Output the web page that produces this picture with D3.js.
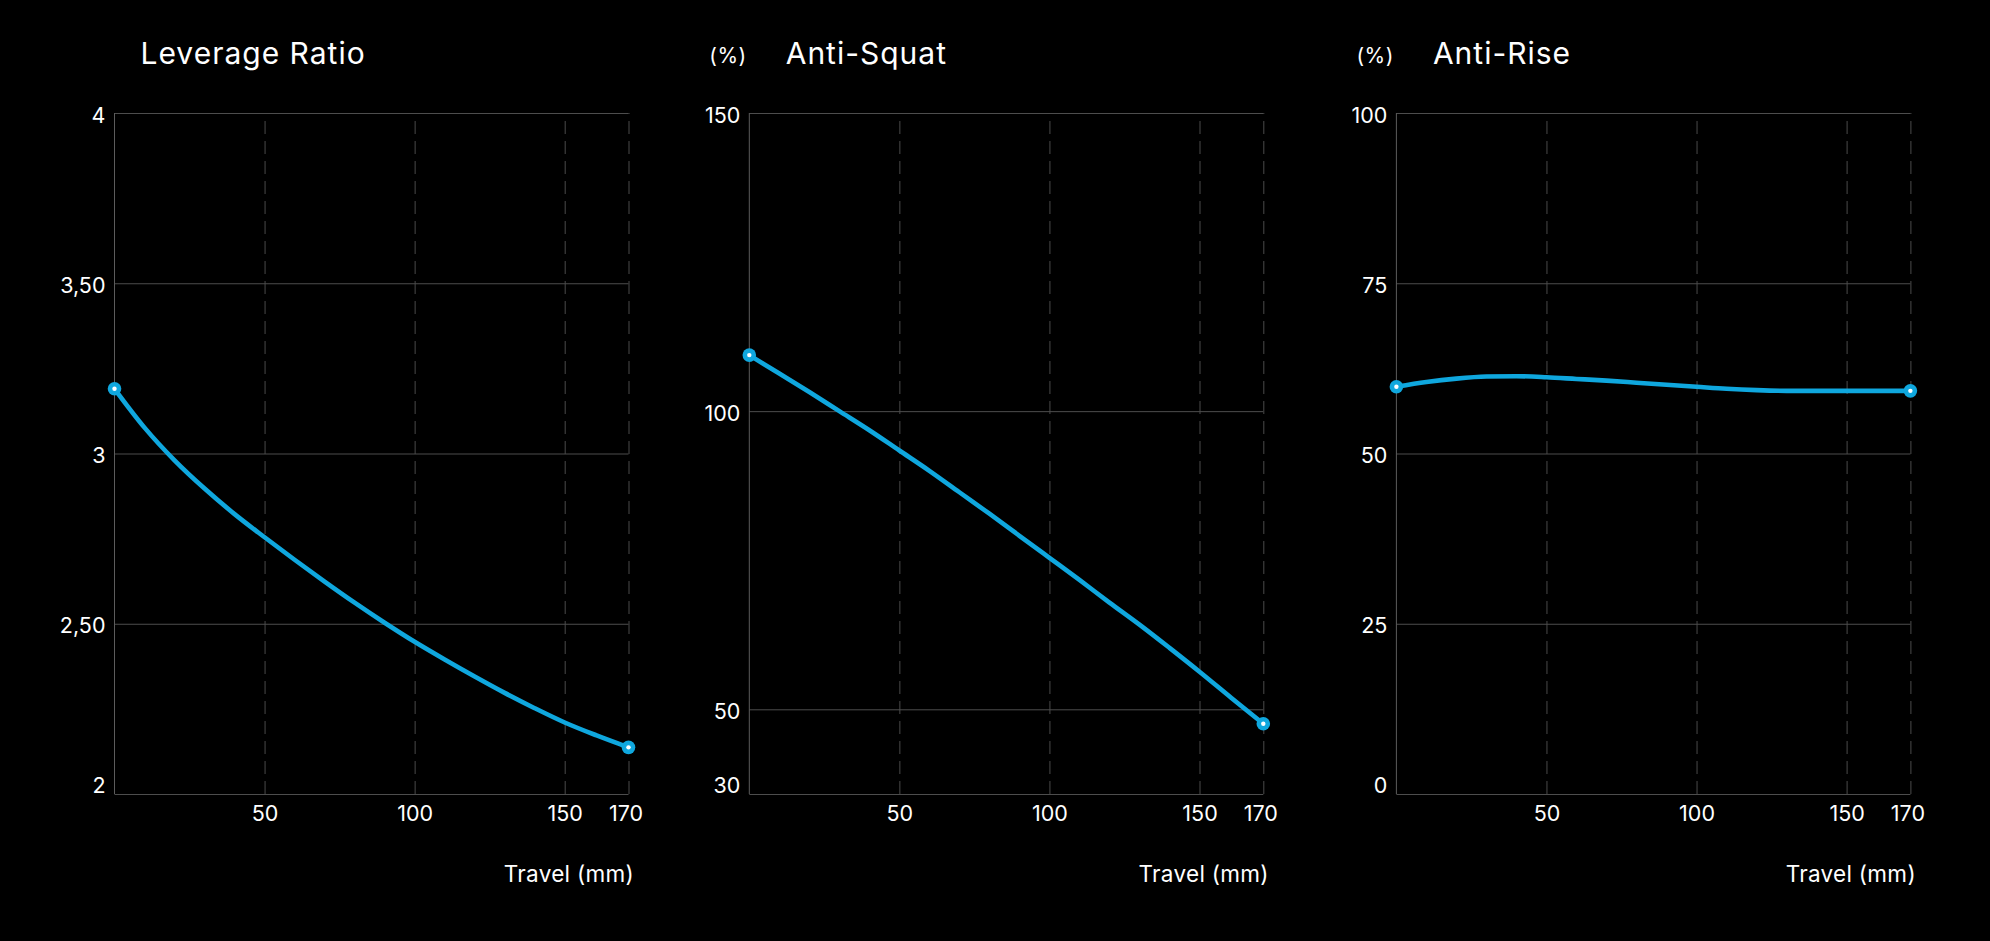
<!DOCTYPE html>
<html>
<head>
<meta charset="utf-8">
<script src="https://cdn.jsdelivr.net/npm/d3@7"></script>
<style>
  html, body { margin: 0; padding: 0; background: #000; }
  svg { display: block; }
  text { font-family: Inter, Roboto, sans-serif; fill: #fff; }
</style>
</head>
<body>
<svg id="chart"></svg>
<script>
// travel in mm
const travel = [0, 10, 20, 30, 40, 50, 60, 70, 80, 90, 100, 110, 120, 130, 140, 150, 160, 170];
const leverage = [3.19, 3.076, 2.980, 2.897, 2.822, 2.754, 2.688, 2.624, 2.562, 2.503, 2.447, 2.395, 2.345, 2.297, 2.252, 2.210, 2.172, 2.137];
const antiSquat = [109.4, 106.3, 103.2, 100.0, 96.8, 93.4, 90.0, 86.4, 82.8, 79.1, 75.4, 71.7, 67.9, 64.2, 60.3, 56.3, 51.9, 46.6];
const antiRise = [59.8, 60.5, 61.0, 61.3, 61.35, 61.2, 60.95, 60.7, 60.4, 60.1, 59.8, 59.5, 59.3, 59.2, 59.2, 59.2, 59.2, 59.2];

const travelTicks = [50, 100, 150, 170];
const leverageTicks = [2, 2.5, 3, 3.5, 4];
const leverageLabels = ['2', '2,50', '3', '3,50', '4'];
const antiSquatTicks = [30, 50, 100, 150];
const antiRiseTicks = [0, 25, 50, 75, 100];

const W = 1990, H = 941;
const plotTop = 113, height = 681, width = 514;
const blue = '#0fa7de';

const svg = d3.select('#chart').attr('width', W).attr('height', H);

const charts = [
  { title: 'Leverage Ratio', unit: null, left: 114.5, titleDx: 26, values: leverage,
    ticks: leverageTicks, fmt: (d, i) => leverageLabels[i],
    y: d3.scaleLinear().domain([2, 4]).range([height, 0]) },
  { title: 'Anti-Squat', unit: '(%)', left: 749.3, titleDx: 36.4, values: antiSquat,
    ticks: antiSquatTicks, fmt: d => d,
    y: d3.scaleLinear().domain([30, 50, 150]).range([height, height - 84.7, 0]) },
  { title: 'Anti-Rise', unit: '(%)', left: 1396.4, titleDx: 36.5, values: antiRise,
    ticks: antiRiseTicks, fmt: d => d,
    y: d3.scaleLinear().domain([0, 100]).range([height, 0]) }
];

charts.forEach(c => {
  const x = d3.scaleLinear().domain([0, 150, 170]).range([0, 450.2, width]);
  const g = svg.append('g').attr('transform', `translate(${c.left},${plotTop})`);

  // titles
  svg.append('text')
    .attr('x', c.left + c.titleDx).attr('y', 64)
    .style('font-size', '30px').style('letter-spacing', '1px')
    .text(c.title);
  if (c.unit) {
    svg.append('text')
      .attr('x', c.left - 40).attr('y', 63)
      .style('font-size', '21px').style('letter-spacing', '0.5px')
      .text(c.unit);
  }

  // vertical dashed grid + x labels
  const xAxis = g.append('g')
    .attr('transform', `translate(0,${height})`)
    .call(d3.axisBottom(x).tickValues(travelTicks).tickSize(-height).tickPadding(12).tickFormat(d => d));
  xAxis.select('.domain').remove();
  xAxis.selectAll('line').attr('stroke', '#4a4a4a').attr('stroke-dasharray', '13,7');
  xAxis.selectAll('text')
    .attr('fill', '#fff')
    .style('font-size', '21.5px')
    .attr('dx', d => d === 170 ? -3 : 0);

  // horizontal grid + y labels
  const yAxis = g.append('g')
    .call(d3.axisLeft(c.y).tickValues(c.ticks).tickSize(-width).tickPadding(9).tickFormat(c.fmt));
  yAxis.select('.domain').remove();
  yAxis.selectAll('line').attr('stroke', '#4d4d4d');
  yAxis.selectAll('text')
    .attr('fill', '#fff')
    .style('font-size', '21.5px')
    .attr('dy', (d, i) => i === 0 ? '-0.05em' : '0.42em');

  // left axis line
  g.append('line')
    .attr('x1', 0).attr('x2', 0).attr('y1', 0).attr('y2', height)
    .attr('stroke', '#5c5c5c');

  const pts = travel.map((t, i) => [t, c.values[i]]);
  const line = d3.line()
    .x(d => x(d[0]))
    .y(d => c.y(d[1]))
    .curve(d3.curveMonotoneX);

  g.append('path')
    .datum(pts)
    .attr('d', line)
    .attr('fill', 'none')
    .attr('stroke', blue)
    .attr('stroke-width', 4.6)
    .attr('stroke-linecap', 'round');

  // end markers
  const ends = [pts[0], pts[pts.length - 1]];
  g.selectAll('.dot').data(ends).enter().append('circle')
    .attr('cx', d => x(d[0])).attr('cy', d => c.y(d[1]))
    .attr('r', 6.8).attr('fill', blue);
  g.selectAll('.dot-in').data(ends).enter().append('circle')
    .attr('cx', d => x(d[0])).attr('cy', d => c.y(d[1]))
    .attr('r', 2.2).attr('fill', '#fff');

  // x axis title
  svg.append('text')
    .attr('x', c.left + width + 5.5).attr('y', 882)
    .attr('text-anchor', 'end')
    .style('font-size', '22.5px').style('letter-spacing', '0.3px')
    .text('Travel (mm)');
});
</script>
</body>
</html>
